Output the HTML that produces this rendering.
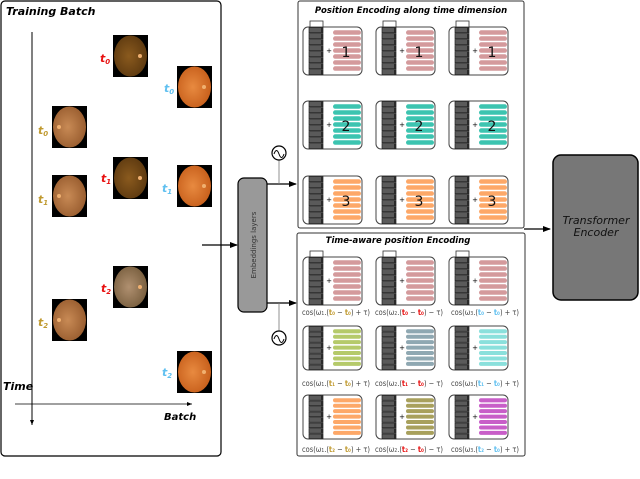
<!DOCTYPE html>
<html><head><meta charset="utf-8"><style>
html,body{margin:0;padding:0;background:#fff;width:640px;height:479px;overflow:hidden}
svg{display:block}
text{font-family:"DejaVu Sans","Liberation Sans",sans-serif}
</style></head><body>
<svg id="s" width="640" height="479" viewBox="0 0 640 479" xmlns="http://www.w3.org/2000/svg">
<defs>
<marker id="ah" markerWidth="8" markerHeight="6" refX="7" refY="3" orient="auto" markerUnits="userSpaceOnUse"><path d="M0,0 L8,3 L0,6 z" fill="#000"/></marker>
<marker id="ahs" markerWidth="5" markerHeight="4" refX="5" refY="2" orient="auto" markerUnits="userSpaceOnUse"><path d="M0,0 L5,2 L0,4 z" fill="#000"/></marker>
<radialGradient id="f1" cx="45%" cy="50%" r="55%"><stop offset="0" stop-color="#c88a55"/><stop offset="1" stop-color="#9a5e30"/></radialGradient>
<radialGradient id="f2" cx="45%" cy="50%" r="55%"><stop offset="0" stop-color="#8a5a1e"/><stop offset="1" stop-color="#5e3a10"/></radialGradient>
<radialGradient id="f3" cx="45%" cy="50%" r="55%"><stop offset="0" stop-color="#e88a40"/><stop offset="1" stop-color="#c8601c"/></radialGradient>
<radialGradient id="f4" cx="45%" cy="50%" r="55%"><stop offset="0" stop-color="#b09070"/><stop offset="1" stop-color="#7a6040"/></radialGradient>
</defs>
<rect x="1" y="1" width="220" height="455" rx="4" fill="#fff" stroke="#000" stroke-width="1.2"/>
<text x="6" y="15" font-size="11" font-weight="bold" font-style="italic">Training Batch</text>
<line x1="32" y1="32" x2="32" y2="425" stroke="#000" stroke-width="1" marker-end="url(#ahs)"/>
<line x1="15" y1="404" x2="192" y2="404" stroke="#000" stroke-width="0.8" marker-end="url(#ahs)"/>
<text x="3" y="390" font-size="11" font-weight="bold" font-style="italic">Time</text>
<text x="164" y="420" font-size="10" font-weight="bold" font-style="italic">Batch</text>
<g id="imgs"></g>
<g font-size="11" font-weight="bold" font-style="italic">
<text x="38" y="134" fill="#c09a30">t<tspan font-size="7" dy="2">0</tspan></text>
<text x="38" y="203" fill="#c09a30">t<tspan font-size="7" dy="2">1</tspan></text>
<text x="38" y="326" fill="#c09a30">t<tspan font-size="7" dy="2">2</tspan></text>
<text x="100" y="62" fill="#e81010">t<tspan font-size="7" dy="2">0</tspan></text>
<text x="101" y="182" fill="#e81010">t<tspan font-size="7" dy="2">1</tspan></text>
<text x="101" y="292" fill="#e81010">t<tspan font-size="7" dy="2">2</tspan></text>
<text x="164" y="92" fill="#60c0f0">t<tspan font-size="7" dy="2">0</tspan></text>
<text x="162" y="192" fill="#60c0f0">t<tspan font-size="7" dy="2">1</tspan></text>
<text x="162" y="376" fill="#60c0f0">t<tspan font-size="7" dy="2">2</tspan></text>
</g>
<line x1="202" y1="245" x2="237" y2="245" stroke="#000" stroke-width="1.2" marker-end="url(#ah)"/>
<rect x="238" y="178" width="29" height="134" rx="6" fill="#999" stroke="#000" stroke-width="1.2"/>
<text transform="translate(256,245) rotate(-90)" text-anchor="middle" font-size="7" fill="#333">Embeddings layers</text>
<line x1="267" y1="184" x2="296" y2="184" stroke="#000" stroke-width="1.2" marker-end="url(#ah)"/>
<line x1="267" y1="303" x2="296" y2="303" stroke="#000" stroke-width="1.2" marker-end="url(#ah)"/>
<line x1="279" y1="160" x2="279" y2="184" stroke="#777" stroke-width="0.8"/>
<line x1="279" y1="303" x2="279" y2="331" stroke="#777" stroke-width="0.8"/>
<circle cx="279" cy="153" r="7" fill="#fff" stroke="#000" stroke-width="1.2"/>
<path d="M274,154 q2.5,-7 5,0 t5,0" fill="none" stroke="#000" stroke-width="1"/>
<circle cx="279" cy="338" r="7" fill="#fff" stroke="#000" stroke-width="1.2"/>
<path d="M274,339 q2.5,-7 5,0 t5,0" fill="none" stroke="#000" stroke-width="1"/>
<rect x="298" y="1" width="226" height="227" rx="2" fill="#fff" stroke="#333" stroke-width="1"/>
<text x="411" y="13" text-anchor="middle" font-size="8.5" font-weight="bold" font-style="italic">Position Encoding along time dimension</text>
<rect x="297" y="233" width="228" height="223" rx="2" fill="#fff" stroke="#333" stroke-width="1"/>
<text x="398" y="243" text-anchor="middle" font-size="8.5" font-weight="bold" font-style="italic">Time-aware position Encoding</text>
<g id="cells"></g>
<g font-size="14" font-family="DejaVu Sans" text-anchor="middle" fill="#111">
<text x="346" y="57">1</text><text x="419" y="57">1</text><text x="492" y="57">1</text>
<text x="346" y="131">2</text><text x="419" y="131">2</text><text x="492" y="131">2</text>
<text x="346" y="206">3</text><text x="419" y="206">3</text><text x="492" y="206">3</text>
</g>
<g font-size="7.5" font-family="Liberation Serif,serif" fill="#444">
<text x="302" y="315" textLength="68" lengthAdjust="spacingAndGlyphs">cos(ω<tspan font-size="5">1</tspan>.(<tspan fill="#c09a30" font-weight="bold">t₀</tspan> − <tspan fill="#c09a30" font-weight="bold">t₀</tspan>) + τ)</text>
<text x="375" y="315" textLength="68" lengthAdjust="spacingAndGlyphs">cos(ω<tspan font-size="5">2</tspan>.(<tspan fill="#e81010" font-weight="bold">t₀</tspan> − <tspan fill="#e81010" font-weight="bold">t₀</tspan>) − τ)</text>
<text x="451" y="315" textLength="68" lengthAdjust="spacingAndGlyphs">cos(ω<tspan font-size="5">3</tspan>.(<tspan fill="#60c0f0" font-weight="bold">t₀</tspan> − <tspan fill="#60c0f0" font-weight="bold">t₀</tspan>) + τ)</text>
<text x="302" y="386" textLength="68" lengthAdjust="spacingAndGlyphs">cos(ω<tspan font-size="5">1</tspan>.(<tspan fill="#c09a30" font-weight="bold">t₁</tspan> − <tspan fill="#c09a30" font-weight="bold">t₀</tspan>) + τ)</text>
<text x="375" y="386" textLength="68" lengthAdjust="spacingAndGlyphs">cos(ω<tspan font-size="5">2</tspan>.(<tspan fill="#e81010" font-weight="bold">t₁</tspan> − <tspan fill="#e81010" font-weight="bold">t₀</tspan>) − τ)</text>
<text x="451" y="386" textLength="68" lengthAdjust="spacingAndGlyphs">cos(ω<tspan font-size="5">3</tspan>.(<tspan fill="#60c0f0" font-weight="bold">t₁</tspan> − <tspan fill="#60c0f0" font-weight="bold">t₀</tspan>) + τ)</text>
<text x="302" y="452" textLength="68" lengthAdjust="spacingAndGlyphs">cos(ω<tspan font-size="5">1</tspan>.(<tspan fill="#c09a30" font-weight="bold">t₂</tspan> − <tspan fill="#c09a30" font-weight="bold">t₀</tspan>) + τ)</text>
<text x="375" y="452" textLength="68" lengthAdjust="spacingAndGlyphs">cos(ω<tspan font-size="5">2</tspan>.(<tspan fill="#e81010" font-weight="bold">t₂</tspan> − <tspan fill="#e81010" font-weight="bold">t₀</tspan>) − τ)</text>
<text x="451" y="452" textLength="68" lengthAdjust="spacingAndGlyphs">cos(ω<tspan font-size="5">3</tspan>.(<tspan fill="#60c0f0" font-weight="bold">t₂</tspan> − <tspan fill="#60c0f0" font-weight="bold">t₀</tspan>) + τ)</text>
</g>
<line x1="524" y1="229" x2="550" y2="229" stroke="#000" stroke-width="1.2" marker-end="url(#ah)"/>
<rect x="553" y="155" width="85" height="145" rx="8" fill="#777" stroke="#000" stroke-width="1.5"/>
<text x="596" y="224" text-anchor="middle" font-size="11" font-style="italic" fill="#111">Transformer</text>
<text x="596" y="236" text-anchor="middle" font-size="11" font-style="italic" fill="#111">Encoder</text>
</svg>
<script>
(function(){
var NS="http://www.w3.org/2000/svg";
function el(p,t,a){var e=document.createElementNS(NS,t);for(var k in a)e.setAttribute(k,a[k]);p.appendChild(e);return e;}
var im=document.getElementById("imgs");
[[52,106,"f1"],[52,175,"f1"],[52,299,"f1"],[113,35,"f2"],[113,157,"f2"],[113,266,"f4"],[177,66,"f3"],[177,165,"f3"],[177,351,"f3"]].forEach(function(p){
 el(im,"rect",{x:p[0],y:p[1],width:35,height:42,fill:"#000"});
 el(im,"ellipse",{cx:p[0]+17.5,cy:p[1]+21,rx:16.5,ry:20.5,fill:"url(#"+p[2]+")"});
 el(im,"circle",{cx:p[0]+(p[2]=="f1"?7:27),cy:p[1]+21,r:2,fill:"#f0b070"});
});
var cg=document.getElementById("cells");
function cell(x,y,h,col,hasTop){
 el(cg,"rect",{x:x,y:y,width:59,height:h,rx:5,fill:"#fff",stroke:"#444","stroke-width":1});
 if(hasTop) el(cg,"rect",{x:x+7,y:y-6,width:13,height:6,fill:"#fff",stroke:"#333","stroke-width":0.8});
 var n=8,bh=h/n;
 for(var i=0;i<n;i++){
  el(cg,"rect",{x:x+6,y:y+i*bh+0.5,width:14,height:bh-0.8,fill:"#5a5a5a",stroke:"#222","stroke-width":0.7});
  el(cg,"rect",{x:x+18,y:y+i*bh+0.8,width:2,height:bh-1.4,fill:"#2a2a2a"});
 }
 var t=el(cg,"text",{x:x+26,y:y+h/2+2,"font-size":7,"text-anchor":"middle"});t.textContent="+";
 var nb=7,sp=(h-6)/nb;
 for(var j=0;j<nb;j++) el(cg,"rect",{x:x+30,y:y+3+j*sp+0.3,width:28,height:sp*0.74,rx:sp*0.37,fill:col});
}
var xs=[303,376,449];
var topC=[["#d49a9c","#d49a9c","#d49a9c"],["#3cc4b0","#3cc4b0","#3cc4b0"],["#fda868","#fda868","#fda868"]];
[27,101,176].forEach(function(y,r){xs.forEach(function(x,c){cell(x,y,48,topC[r][c],r==0);});});
var botC=[["#d49a9c","#d49a9c","#d49a9c"],["#b5ca6a","#8fa8b2","#8ae0dc"],["#fda868","#a8a05c","#c85ec8"]];
[[257,48],[326,44],[395,44]].forEach(function(yh,r){xs.forEach(function(x,c){cell(x,yh[0],yh[1],botC[r][c],r==0);});});
})();
</script>
</body></html>
